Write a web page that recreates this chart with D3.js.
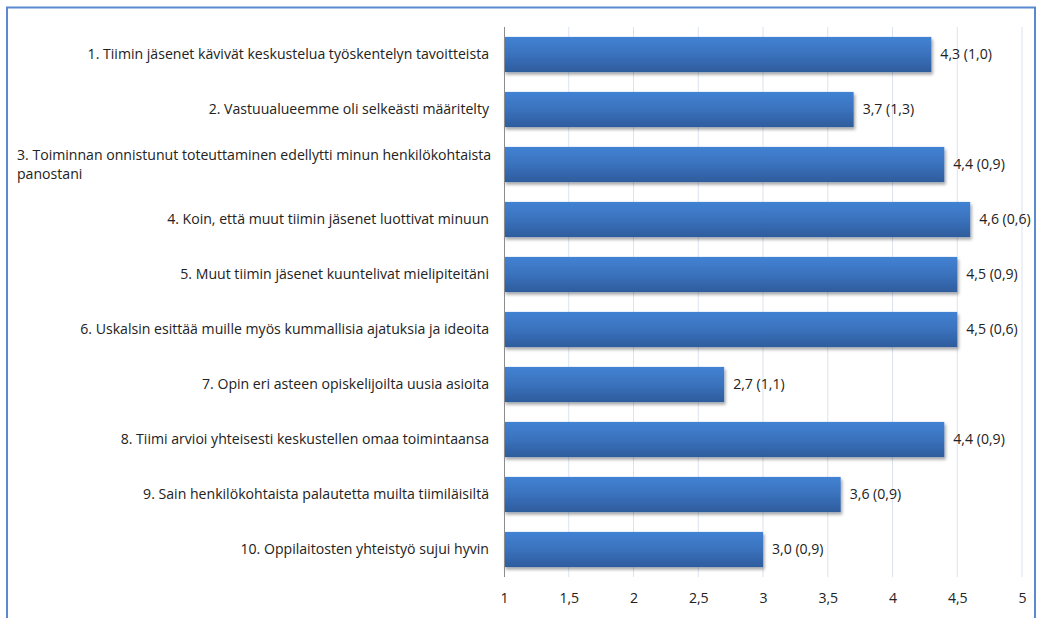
<!DOCTYPE html>
<html>
<head>
<meta charset="utf-8">
<script src="https://cdn.jsdelivr.net/npm/d3@7"></script>
<style>
  html, body { margin: 0; padding: 0; background: #fff; }
  svg { display: block; }
  text { font-family: "Open Sans", Lato, sans-serif; fill: #222; }
</style>
</head>
<body>
<svg id="chart" width="1044" height="618"></svg>
<script>
// Statements (label lines), mean scores and standard deviations
const statements = [
  ["1. Tiimin jäsenet kävivät keskustelua työskentelyn tavoitteista"],
  ["2. Vastuualueemme oli selkeästi määritelty"],
  ["3. Toiminnan onnistunut toteuttaminen edellytti minun henkilökohtaista", "panostani"],
  ["4. Koin, että muut tiimin jäsenet luottivat minuun"],
  ["5. Muut tiimin jäsenet kuuntelivat mielipiteitäni"],
  ["6. Uskalsin esittää muille myös kummallisia ajatuksia ja ideoita"],
  ["7. Opin eri asteen opiskelijoilta uusia asioita"],
  ["8. Tiimi arvioi yhteisesti keskustellen omaa toimintaansa"],
  ["9. Sain henkilökohtaista palautetta muilta tiimiläisiltä"],
  ["10. Oppilaitosten yhteistyö sujui hyvin"]
];
const means = [4.3, 3.7, 4.4, 4.6, 4.5, 4.5, 2.7, 4.4, 3.6, 3.0];
const sds   = [1.0, 1.3, 0.9, 0.6, 0.9, 0.6, 1.1, 0.9, 0.9, 0.9];
const ticks = [1, 1.5, 2, 2.5, 3, 3.5, 4, 4.5, 5];

const rows = statements.map((s, i) => ({ id: i, lines: s, mean: means[i], sd: sds[i] }));
const fmt = v => d3.format(".1f")(v).replace(".", ",");
const FONT = 14.1;

const svg = d3.select("#chart");

// Outer frame (open at the bottom)
svg.append("path")
  .attr("d", "M7,618 V7.5 H1035 V618")
  .attr("fill", "none")
  .attr("stroke", "#5b89cf")
  .attr("stroke-width", 2);

const plot = { left: 504, right: 1022, top: 27, bottom: 577 };

const x = d3.scaleLinear().domain([1, 5]).range([plot.left, plot.right]);
const y = d3.scaleBand().domain(rows.map(d => d.id))
  .range([plot.top, plot.bottom]).paddingInner(0.36).paddingOuter(0.18);

const defs = svg.append("defs");
const grad = defs.append("linearGradient").attr("id", "barGrad")
  .attr("x1", 0).attr("y1", 0).attr("x2", 0).attr("y2", 1);
grad.append("stop").attr("offset", "0%").attr("stop-color", "#4282d3");
grad.append("stop").attr("offset", "50%").attr("stop-color", "#3a72bd");
grad.append("stop").attr("offset", "100%").attr("stop-color", "#2e5c9c");

const shadow = defs.append("filter").attr("id", "barShadow")
  .attr("x", "-5%").attr("y", "-20%").attr("width", "115%").attr("height", "160%");
shadow.append("feDropShadow").attr("dx", 1.5).attr("dy", 2.5)
  .attr("stdDeviation", 1.5).attr("flood-color", "#000").attr("flood-opacity", 0.35);

// Vertical gridlines
svg.append("g").selectAll("line").data(ticks.slice(1)).join("line")
  .attr("x1", d => x(d)).attr("x2", d => x(d))
  .attr("y1", plot.top).attr("y2", plot.bottom)
  .attr("stroke", "#dbe3ef").attr("stroke-width", 1);

// Bars
svg.append("g").selectAll("rect").data(rows).join("rect")
  .attr("x", x(1))
  .attr("y", d => y(d.id))
  .attr("width", d => x(d.mean) - x(1))
  .attr("height", y.bandwidth())
  .attr("fill", "url(#barGrad)")
  .attr("filter", "url(#barShadow)");

// Category axis line
svg.append("line")
  .attr("x1", x(1) + 0.5).attr("x2", x(1) + 0.5)
  .attr("y1", plot.top).attr("y2", plot.bottom)
  .attr("stroke", "#8c8c8c").attr("stroke-width", 1);

// Value axis tick labels
const xAxis = d3.axisBottom(x).tickValues(ticks).tickSize(0).tickPadding(0)
  .tickFormat(d => d3.format("")(d).replace(".", ","));
const gx = svg.append("g").attr("transform", `translate(0,${plot.bottom + 16})`).call(xAxis);
gx.select(".domain").remove();
gx.selectAll("text").attr("font-size", FONT).attr("fill", "#222")
  .style("font-family", "'Open Sans', Lato, sans-serif");

// Statement labels
const lab = svg.append("g").selectAll("text").data(rows).join("text")
  .attr("font-size", FONT);
lab.each(function (d) {
  const t = d3.select(this);
  const cy = y(d.id) + y.bandwidth() / 2;
  if (d.lines.length === 1) {
    t.attr("x", plot.left - 15).attr("y", cy).attr("dy", "0.35em")
      .attr("text-anchor", "end").text(d.lines[0]);
  } else {
    const lh = 19;
    d.lines.forEach((line, k) => {
      t.append("tspan").attr("x", 17)
        .attr("y", cy + (k - (d.lines.length - 1) / 2) * lh)
        .attr("dy", "0.35em").text(line);
    });
  }
});

// Value labels: mean (sd)
svg.append("g").selectAll("text").data(rows).join("text")
  .attr("x", d => x(d.mean) + 9)
  .attr("y", d => y(d.id) + y.bandwidth() / 2)
  .attr("dy", "0.35em")
  .attr("font-size", FONT)
  .text(d => `${fmt(d.mean)} (${fmt(d.sd)})`);
</script>
</body>
</html>
